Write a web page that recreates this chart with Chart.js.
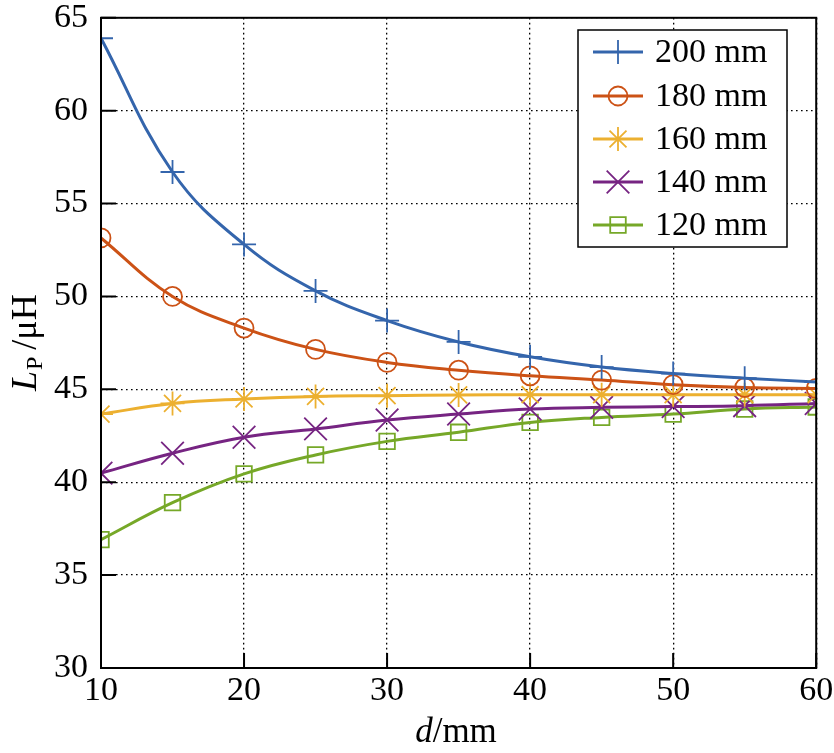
<!DOCTYPE html>
<html>
<head>
<meta charset="utf-8">
<script src="https://cdn.jsdelivr.net/npm/chart.js@4/dist/chart.umd.min.js"></script>
<style>
  html, body { margin: 0; padding: 0; background: #fff; }
  #wrap { width: 834px; height: 753px; }
</style>
</head>
<body>
<div id="wrap"><canvas id="chart_lp" width="834" height="753"></canvas></div>
<script>
var distances = [10, 15, 20, 25, 30, 35, 40, 45, 50, 55, 60];

var lp200 = [63.9, 56.7, 52.8, 50.3, 48.7, 47.55, 46.75, 46.2, 45.85, 45.6, 45.4];
var lp180 = [53.15, 50.0, 48.3, 47.15, 46.45, 46.03, 45.73, 45.5, 45.25, 45.1, 45.05];
var lp160 = [43.67, 44.24, 44.48, 44.62, 44.66, 44.7, 44.71, 44.71, 44.71, 44.71, 44.71];
var lp140 = [40.49, 41.56, 42.42, 42.87, 43.35, 43.67, 43.94, 44.03, 44.07, 44.12, 44.24];
var lp120 = [36.91, 38.9, 40.45, 41.47, 42.2, 42.69, 43.22, 43.49, 43.67, 43.94, 44.05];

var seriesLabels = ['200 mm', '180 mm', '160 mm', '140 mm', '120 mm'];
var yTicks = [30, 35, 40, 45, 50, 55, 60, 65];
var xTicks = [10, 20, 30, 40, 50, 60];

var serif = '"Liberation Serif", "Times New Roman", serif';

function pts(arr) {
  return arr.map(function (v, i) { return {x: distances[i], y: v}; });
}

function makeSet(label, values, color, style, radius) {
  return {
    label: label,
    data: pts(values),
    borderColor: color,
    backgroundColor: color,
    pointBorderColor: color,
    pointBackgroundColor: 'rgba(0,0,0,0)',
    pointStyle: style,
    pointRadius: radius,
    pointHoverRadius: radius,
    pointBorderWidth: 1.8,
    borderWidth: 3,
    tension: 0.4,
    fill: false
  };
}

var datasets = [
  makeSet(seriesLabels[0], lp200, 'rgb(52,101,172)', 'cross', 12),
  makeSet(seriesLabels[1], lp180, 'rgb(204,82,22)', 'circle', 9.5),
  makeSet(seriesLabels[2], lp160, 'rgb(236,176,48)', 'star', 12),
  makeSet(seriesLabels[3], lp140, 'rgb(118,36,130)', 'crossRot', 16),
  makeSet(seriesLabels[4], lp120, 'rgb(118,168,40)', 'rect', 11)
];

// frame, inward ticks, axis titles and legend
var decor = {
  id: 'decor',
  afterDatasetsDraw: function (chart) {
    var ctx = chart.ctx, a = chart.chartArea;
    var xs = chart.scales.x, ys = chart.scales.y;
    ctx.save();
    ctx.strokeStyle = '#000';
    ctx.lineWidth = 2;
    ctx.setLineDash([]);
    ctx.strokeRect(a.left, a.top, a.right - a.left, a.bottom - a.top);

    ctx.beginPath();
    yTicks.forEach(function (t) {
      var py = ys.getPixelForValue(t);
      ctx.moveTo(a.left, py); ctx.lineTo(a.left + 15, py);
    });
    xTicks.forEach(function (t) {
      var px = xs.getPixelForValue(t);
      ctx.moveTo(px, a.bottom); ctx.lineTo(px, a.bottom - 15);
    });
    ctx.stroke();

    // x title
    ctx.fillStyle = '#000';
    ctx.textBaseline = 'alphabetic';
    ctx.font = 'italic 35px ' + serif;
    var w1 = ctx.measureText('d').width;
    ctx.font = '35px ' + serif;
    var w2 = ctx.measureText('/mm').width;
    var sx = 456 - (w1 + w2) / 2;
    ctx.font = 'italic 35px ' + serif;
    ctx.fillText('d', sx, 742);
    ctx.font = '35px ' + serif;
    ctx.fillText('/mm', sx + w1, 742);

    // y title
    ctx.save();
    ctx.translate(36, 391);
    ctx.rotate(-Math.PI / 2);
    ctx.font = 'italic 36px ' + serif;
    ctx.fillText('L', 0, 0);
    var o = ctx.measureText('L').width + 1;
    ctx.font = '24px ' + serif;
    ctx.fillText('P', o, 6);
    o += ctx.measureText('P').width + 7;
    ctx.font = '36px ' + serif;
    ctx.fillText('/\u03bcH', o, 0);
    ctx.restore();

    // legend box
    var bx = 578, by = 30, bw = 209, bh = 217;
    ctx.fillStyle = '#fff';
    ctx.fillRect(bx, by, bw, bh);
    ctx.lineWidth = 1.5;
    ctx.strokeStyle = '#000';
    ctx.strokeRect(bx, by, bw, bh);
    var rowY = [52, 96, 139, 182, 225];
    chart.data.datasets.forEach(function (ds, i) {
      var cy = rowY[i];
      ctx.strokeStyle = ds.borderColor;
      ctx.lineWidth = 3;
      ctx.beginPath();
      ctx.moveTo(593, cy); ctx.lineTo(643, cy);
      ctx.stroke();
      ctx.lineWidth = 1.8;
      ctx.fillStyle = 'rgba(0,0,0,0)';
      Chart.helpers.drawPoint(ctx, {
        pointStyle: ds.pointStyle, radius: ds.pointRadius,
        borderWidth: 1.8, rotation: 0
      }, 618, cy);
      ctx.fillStyle = '#000';
      ctx.font = '34px ' + serif;
      ctx.textBaseline = 'middle';
      ctx.fillText(ds.label, 655, cy + 1);
    });
    ctx.restore();
  }
};

var config = {
  type: 'line',
  data: { datasets: datasets },
  options: {
    responsive: false,
    animation: false,
    layout: { padding: { left: 0, right: 16, top: 16, bottom: 0 } },
    plugins: { legend: { display: false }, tooltip: { enabled: false } },
    scales: {
      x: {
        type: 'linear', min: 10, max: 60,
        afterBuildTicks: function (s) { s.ticks = xTicks.map(function (v) { return {value: v}; }); },
        afterFit: function (s) { s.height = 85; s.paddingLeft = 0; s.paddingRight = 0; },
        grid: { color: '#000', lineWidth: 1.3, drawTicks: false },
        border: { display: false, dash: [1.6, 3.4] },
        ticks: { color: '#000', font: { family: serif, size: 34 }, padding: 3, maxRotation: 0 }
      },
      y: {
        type: 'linear', min: 30, max: 65,
        afterBuildTicks: function (s) { s.ticks = yTicks.map(function (v) { return {value: v}; }); },
        afterFit: function (s) { s.width = 101; s.paddingTop = 0; s.paddingBottom = 0; },
        grid: { color: '#000', lineWidth: 1.3, drawTicks: false },
        border: { display: false, dash: [1.6, 3.4] },
        ticks: { color: '#000', font: { family: serif, size: 34 }, padding: 13 }
      }
    }
  },
  plugins: [decor]
};

new Chart(document.getElementById('chart_lp'), config);
</script>
</body>
</html>
